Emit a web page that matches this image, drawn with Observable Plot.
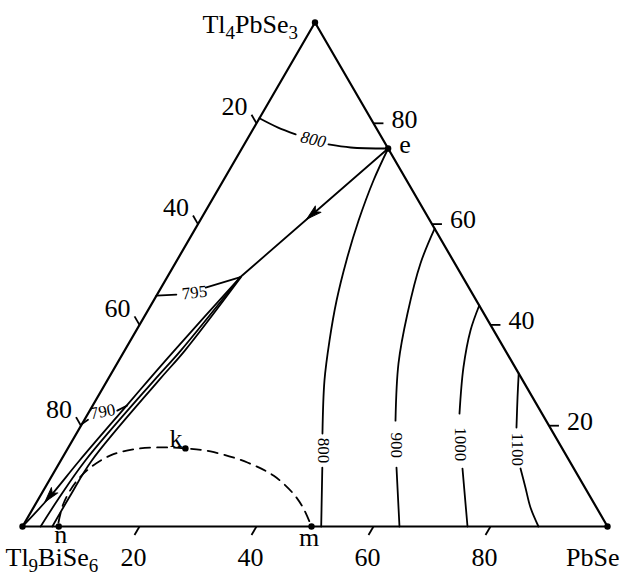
<!DOCTYPE html>
<html><head><meta charset="utf-8">
<script src="https://cdn.jsdelivr.net/npm/d3@7"></script>
<script src="https://cdn.jsdelivr.net/npm/@observablehq/plot@0.6"></script>
<style>html,body{margin:0;padding:0;background:#fff}svg{display:block}</style>
</head><body><div id="chart"></div>
<script>
// Compositions are [mol% PbSe, mol% Tl4PbSe3]; the rest is Tl9BiSe6.
const vertexNames = ["Tl_9BiSe_6", "PbSe", "Tl_4PbSe_3"];
const vertexComps = [[0, 0], [100, 0], [0, 100]];
const tickValues = [20, 40, 60, 80];
const pointNames = ["e", "k", "n", "m"];
const pointComps = [[25, 75], [20.1, 15.5], [6.2, 0], [49.4, 0]];

// Univariant lines from the eutectic e
const lineEJ = [[25, 75], [18.75, 62.25], [12.5, 49.5]];
const line1 = [[12.5, 49.5], [8.5, 34.9], [7.0, 29], [5.8, 24], [3.2, 13.1], [1.7, 5.8], [0, 0]];
const line2 = [[12.5, 49.5], [9.6, 34.9], [8.0, 29], [4.2, 13.1], [3.4, 5.5], [3.1, 0]];
const line3 = [[12.6, 49.4], [10.3, 34.9], [8.8, 29], [5.3, 13.1], [5.1, 6], [5.1, 0]];
// Dashed curve n - k - m
const dashed = [[5.75, 0.8], [4.73, 4.56], [4.7, 8.73], [5.77, 11.7], [8.0, 14.1], [11.3, 15.3], [15.7, 15.7], [20.1, 15.5], [24.7, 14.9], [32.1, 12.7], [37.85, 10.1], [43.0, 6.55], [46.25, 3.57], [49.4, 0]];

// Isotherms (null = gap for the label)
const isoTemps = ["800", "795", "790", "800", "900", "1000", "1100"];
const iso800top = [[0, 81], [4.0, 79.2], [7.8, 77.8], null, [14.4, 75.8], [18.5, 75.2], [25, 75]];
const iso795 = [[0, 45.8], [3.3, 46.0], null, [7.6, 47.4], [12.5, 49.5]];
const iso790 = [[0, 20.4], [0.6, 21.2], null, [4.7, 23.0], [5.9, 24.0]];
const iso800 = [[25, 75], [25.67, 68.65], [27.1, 60.7], [28.98, 52.8], [31.28, 44.8], [34.03, 36.9], [37.12, 29.0], [42.05, 18.45], null, [45.4, 11.7], [51.06, 0]];
const iso900 = [[40.9, 59.1], [41.93, 52.2], [44.68, 42.26], [48.1, 32.34], [53.26, 21.0], null, [58.08, 11.7], [64.44, 0]];
const iso1000 = [[56.15, 43.85], [57.13, 38.9], [59.6, 31.55], [63.5, 22.4], null, [69.46, 11.5], [76.07, 0]];
const iso1100 = [[69.64, 30.36], [71.82, 25.6], [74.62, 19.64], null, [79.38, 11.5], [82.1, 7.74], [84.95, 3.77], [88.2, 0]];
const isoLabelComps = [[11.3, 76.8], [6.2, 46.4], [2.3, 22.8], [43.9, 15.1], [55.9, 16.1], [66.7, 16.3], [77.0, 15.3]];

// Arrow heads: direction from -> tip
const arrowFrom = [[25, 75], [3.2, 13.1]];
const arrowTip = [[18.1, 61.0], [1.4, 4.9]];

const S3 = Math.sqrt(3) / 2;
const toXY = c => c ? {x: c[0] + c[1] / 2, y: c[1] * S3} : {x: NaN, y: NaN};
const pts = arr => arr.map(toXY);
const FONT = "Liberation Serif, Times New Roman, serif";

const vertices = vertexNames.map((n, i) => ({name: n, ...toXY(vertexComps[i])}));
const points = pointNames.map((n, i) => ({name: n, ...toXY(pointComps[i])}));
const triangle = pts([...vertexComps, vertexComps[0]]);

const tLen = 1.7;
const ticksBottom = tickValues.map(v => ({label: v, a: toXY([v, 0]), b: toXY([v, -tLen])}));
const ticksLeft = tickValues.map(v => ({label: v, a: toXY([0, 100 - v]), b: toXY([-tLen, 100 - v + tLen])}));
const ticksRight = tickValues.map(v => ({label: v, a: toXY([100 - v, v]), b: toXY([100 - v + tLen, v])}));
const allTicks = [...ticksBottom, ...ticksLeft, ...ticksRight];

const isoLabels = isoTemps.map((t, i) => ({t, ...toXY(isoLabelComps[i])}));
const arrows = arrowTip.map((tip, i) => {
  const a = toXY(arrowFrom[i]), b = toXY(tip);
  return {x: b.x, y: b.y, angle: Math.atan2(b.x - a.x, b.y - a.y) * 180 / Math.PI};
});

const curve = (arr, o = {}) => Plot.line(pts(arr), {x: "x", y: "y", stroke: "black", strokeWidth: 1.8, curve: "catmull-rom", ...o});

const headShape = {draw(ctx, l) { const w = 4.2; ctx.moveTo(0, -l); ctx.lineTo(-w, 0); ctx.lineTo(0, -l * 0.25); ctx.lineTo(w, 0); ctx.closePath(); }};
let arrowMark;
try {
  arrowMark = Plot.vector(arrows, {x: "x", y: "y", rotate: "angle", length: 15, anchor: "end", shape: headShape, fill: "black", stroke: "black", strokeWidth: 1});
} catch (e) {
  arrowMark = Plot.vector(arrows, {x: "x", y: "y", rotate: "angle", length: 15, anchor: "end", stroke: "black", strokeWidth: 2});
}

const textBase = {x: "x", y: "y", fontFamily: FONT, fill: "black"};

const chart = Plot.plot({
  width: 621, height: 572,
  marginLeft: 22, marginRight: 14, marginTop: 22, marginBottom: 46,
  x: {domain: [0, 100], axis: null},
  y: {domain: [0, 100 * S3], axis: null},
  style: {background: "white"},
  marks: [
    Plot.line(triangle, {x: "x", y: "y", stroke: "black", strokeWidth: 2.2}),
    Plot.link(allTicks, {x1: d => d.a.x, y1: d => d.a.y, x2: d => d.b.x, y2: d => d.b.y, stroke: "black", strokeWidth: 1.8}),
    Plot.line(pts(lineEJ), {x: "x", y: "y", stroke: "black", strokeWidth: 1.8}),
    curve(line1), curve(line2), curve(line3),
    curve(dashed, {strokeDasharray: "10,7", strokeWidth: 1.8}),
    curve(iso800top), curve(iso795, {curve: "linear"}), curve(iso790, {curve: "linear"}),
    curve(iso800), curve(iso900), curve(iso1000), curve(iso1100),
    arrowMark,
    Plot.dot([...vertices, ...points], {x: "x", y: "y", r: 3.2, fill: "black"}),
    // tick labels
    Plot.text(ticksBottom, {...textBase, x: d => d.a.x, y: d => d.a.y, text: "label", fontSize: 26, dx: -6, dy: 31}),
    Plot.text(ticksLeft, {...textBase, x: d => d.a.x, y: d => d.a.y, text: "label", fontSize: 26, textAnchor: "end", dx: -9, dy: -16.5}),
    Plot.text(ticksRight, {...textBase, x: d => d.a.x, y: d => d.a.y, text: "label", fontSize: 26, textAnchor: "start", dx: 18, dy: -4}),
    // vertex labels
    Plot.text([vertices[2]], {...textBase, text: "name", fontSize: 26, textAnchor: "end", dx: -17, dy: 2}),
    Plot.text([vertices[0]], {...textBase, text: "name", fontSize: 26, textAnchor: "start", dx: -17, dy: 31}),
    Plot.text([vertices[1]], {...textBase, text: "name", fontSize: 26, textAnchor: "end", dx: 12, dy: 31}),
    // point labels
    Plot.text([points[0]], {...textBase, text: "name", fontSize: 26, textAnchor: "start", dx: 11, dy: -4}),
    Plot.text([points[1]], {...textBase, text: "name", fontSize: 26, textAnchor: "end", dx: -3, dy: -10}),
    Plot.text([points[2]], {...textBase, text: "name", fontSize: 26, dx: 2, dy: 8}),
    Plot.text([points[3]], {...textBase, text: "name", fontSize: 26, dx: -2.5, dy: 11}),
    // isotherm labels
    Plot.text([isoLabels[0]], {...textBase, text: "t", fontSize: 17, fontStyle: "italic", rotate: 12}),
    Plot.text([isoLabels[1]], {...textBase, text: "t", fontSize: 17, rotate: -6}),
    Plot.text([isoLabels[2]], {...textBase, text: "t", fontSize: 17, rotate: -10}),
    Plot.text(isoLabels.slice(3), {...textBase, text: "t", fontSize: 17, rotate: 90})
  ]
});

// subscripts: "Tl_4PbSe_3" -> Tl<sub>4</sub>PbSe<sub>3</sub>
chart.querySelectorAll("text").forEach(t => {
  const s = t.textContent;
  if (!s.includes("_")) return;
  const parts = s.split(/_(\d)/);
  t.textContent = "";
  let down = false;
  parts.forEach((p, i) => {
    if (!p) return;
    const ts = document.createElementNS("http://www.w3.org/2000/svg", "tspan");
    ts.textContent = p;
    if (i % 2 === 1) { ts.setAttribute("font-size", "19"); ts.setAttribute("dy", "6"); down = true; }
    else if (down) { ts.setAttribute("dy", "-6"); down = false; }
    t.appendChild(ts);
  });
});
document.getElementById("chart").appendChild(chart);
</script>
</body></html>
